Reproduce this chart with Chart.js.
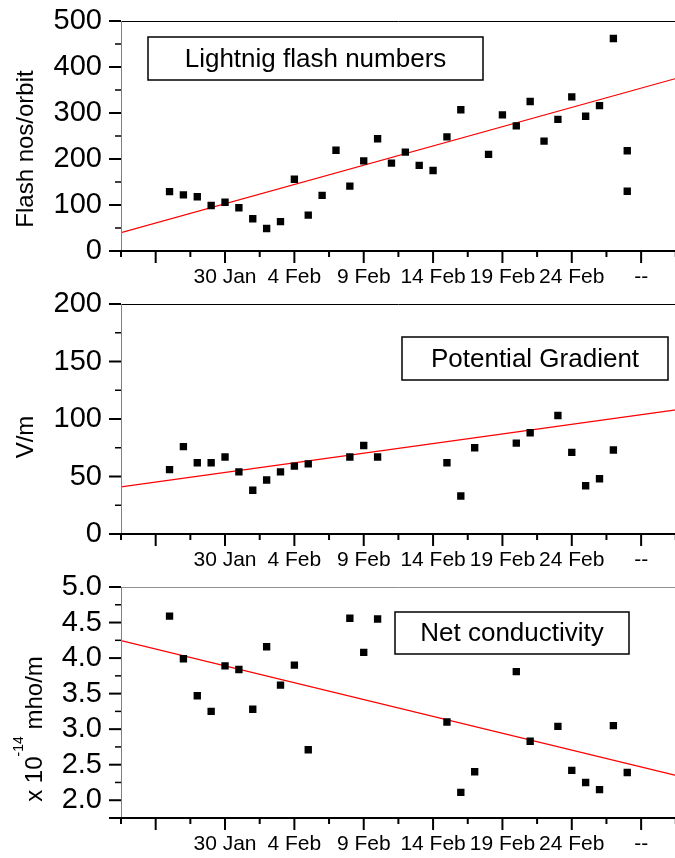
<!DOCTYPE html>
<html>
<head>
<meta charset="utf-8">
<script src="https://cdn.jsdelivr.net/npm/chart.js@4.4.1/dist/chart.umd.min.js"></script>
<style>
  html, body { margin: 0; padding: 0; background: #fff; overflow: hidden; }
  #wrap { position: relative; width: 675px; height: 858px; overflow: hidden; }
  #wrap canvas { position: absolute; left: 0; }
</style>
</head>
<body>
<div id="wrap">
  <canvas id="flash" width="681" height="320" style="top:-20px"></canvas>
  <canvas id="pg" width="681" height="315" style="top:265px"></canvas>
  <canvas id="cond" width="681" height="310" style="top:548px"></canvas>
</div>
<script>
// day numbers counted from 1 Jan (32 = 1 Feb)
var dayMin = 22.5, dayMax = 62.5;
var tickDays = [25, 30, 35, 40, 45, 50, 55, 60];
var tickLabels = ['', '30 Jan', '4 Feb', '9 Feb', '14 Feb', '19 Feb', '24 Feb', '--'];

// lightning flash numbers
var flashDays = [26, 27, 28, 29, 30, 31, 32, 33, 34, 35, 36, 37, 38, 39, 40, 41, 42, 43, 44, 45, 46, 47,
                 49, 50, 51, 52, 53, 54, 55, 56, 57, 58, 59, 59];
var flashCounts = [129, 122, 118, 99, 106, 94, 70, 49, 64, 156, 78, 121, 219, 141, 196, 244, 191, 215, 186, 175, 248, 307,
                   210, 296, 272, 325, 239, 286, 335, 293, 316, 462, 218, 130];
var flashTicks = [0, 100, 200, 300, 400, 500];

// potential gradient
var pgDays = [26, 27, 28, 29, 30, 31, 32, 33, 34, 35, 36, 39, 40, 41, 46, 47, 48, 51, 52, 54, 55, 56, 57, 58];
var pgValues = [56, 76, 62, 62, 67, 54, 38, 47, 54, 59, 61, 67, 77, 67, 62, 33, 75, 79, 88, 103, 71, 42, 48, 73];
var pgTicks = [0, 50, 100, 150, 200];

// net conductivity
var condDays = [26, 27, 28, 29, 30, 31, 32, 33, 34, 35, 36, 39, 40, 41, 46, 47, 48, 51, 52, 54, 55, 56, 57, 58, 59];
var condValues = [4.59, 3.99, 3.47, 3.25, 3.89, 3.84, 3.28, 4.16, 3.62, 3.90, 2.71, 4.56, 4.08, 4.55, 3.10, 2.11, 2.40,
                  3.81, 2.83, 3.04, 2.42, 2.25, 2.15, 3.05, 2.39];
var condTicks = [2.0, 2.5, 3.0, 3.5, 4.0, 4.5, 5.0];

// fitted lines (end points)
var trendDays = [22.5, 62.5];
var flashTrend = [40, 375];
var pgTrend = [41, 108];
var condTrend = [4.245, 2.35];

var FONT = '"Liberation Sans", Arial, sans-serif';

function pts(xs, ys) {
  return xs.map(function (d, i) { return { x: d, y: ys[i] }; });
}

function seg(ctx, x1, y1, x2, y2) {
  ctx.beginPath(); ctx.moveTo(x1, y1); ctx.lineTo(x2, y2); ctx.stroke();
}

// axes, minor ticks, label box and y title drawn by hand
var decor = {
  id: 'decor',
  afterDraw: function (chart, args, o) {
    var ctx = chart.ctx, a = chart.chartArea;
    var xs = chart.scales.x, ys = chart.scales.y;
    ctx.save();

    // top line
    ctx.strokeStyle = o.topColor; ctx.lineWidth = 1;
    seg(ctx, a.left, a.top + 0.5, a.right, a.top + 0.5);
    // y axis line
    ctx.strokeStyle = '#808080';
    seg(ctx, a.left + 0.5, a.top, a.left + 0.5, a.bottom);

    // y ticks
    ctx.strokeStyle = '#000';
    var maj = o.yTicks, step = maj[1] - maj[0];
    maj.forEach(function (v) {
      var p = ys.getPixelForValue(v);
      ctx.lineWidth = 2; seg(ctx, a.left - 12, p, a.left, p);
    });
    var minors = [];
    for (var i = 0; i < maj.length - 1; i++) minors.push(maj[i] + step / 2);
    if (maj[0] - step / 2 >= ys.min - 1e-9) minors.push(maj[0] - step / 2);
    minors.forEach(function (v) {
      var p = ys.getPixelForValue(v);
      ctx.lineWidth = 1.5; seg(ctx, a.left - 6, p, a.left, p);
    });

    // x axis
    ctx.lineWidth = 2;
    seg(ctx, a.left - 12, a.bottom, a.right, a.bottom);
    for (var d = dayMin; d <= dayMax + 1e-9; d += 2.5) {
      var px = xs.getPixelForValue(d);
      var major = tickDays.indexOf(d) >= 0;
      seg(ctx, px, a.bottom, px, a.bottom + (major ? 12 : 6));
    }

    // label box
    var b = o.box;
    ctx.lineWidth = 1.5; ctx.strokeStyle = '#000';
    ctx.strokeRect(b.x, b.y, b.w, b.h);
    ctx.fillStyle = '#000';
    ctx.font = '26px ' + FONT;
    ctx.textAlign = 'center'; ctx.textBaseline = 'middle';
    ctx.fillText(b.text, b.x + b.w / 2, b.y + b.h / 2 + 1);

    // y title
    var t = o.title;
    ctx.translate(t.x, t.y);
    ctx.rotate(-Math.PI / 2);
    ctx.textBaseline = 'alphabetic';
    if (!t.sup) {
      ctx.font = '24px ' + FONT;
      ctx.textAlign = 'center';
      ctx.fillText(t.text, 0, 0);
    } else {
      ctx.textAlign = 'left';
      ctx.font = '24px ' + FONT;
      var w1 = ctx.measureText(t.text).width, w3 = ctx.measureText(t.after).width;
      ctx.font = '14px ' + FONT;
      var w2 = ctx.measureText(t.sup).width;
      var x0 = -(w1 + w2 + w3) / 2;
      ctx.font = '24px ' + FONT;
      ctx.fillText(t.text, x0, 0);
      ctx.font = '14px ' + FONT;
      ctx.fillText(t.sup, x0 + w1, -19);
      ctx.font = '24px ' + FONT;
      ctx.fillText(t.after, x0 + w1 + w2, 0);
    }
    ctx.restore();
  }
};

function makePanel(id, days, vals, trend, yMin, yMax, yTicks, fmt, padTop, xHeight, decorOpts) {
  decorOpts.yTicks = yTicks;
  return new Chart(document.getElementById(id), {
    type: 'scatter',
    data: {
      datasets: [{
        data: pts(days, vals),
        pointStyle: 'rect',
        pointRadius: 5.2,
        backgroundColor: '#000',
        borderWidth: 0
      }, {
        type: 'line',
        data: pts(trendDays, trend),
        borderColor: '#ff0000',
        borderWidth: 1.2,
        pointRadius: 0,
        fill: false
      }]
    },
    options: {
      responsive: false,
      animation: false,
      events: [],
      layout: { padding: { top: padTop, left: 0, right: 0, bottom: 0 } },
      plugins: { legend: { display: false }, tooltip: { enabled: false }, decor: decorOpts },
      scales: {
        x: {
          type: 'linear', min: dayMin, max: dayMax,
          afterBuildTicks: function (s) { s.ticks = tickDays.map(function (v) { return { value: v }; }); },
          afterFit: function (s) { s.height = xHeight; },
          grid: { display: false, drawTicks: false },
          border: { display: false },
          ticks: {
            autoSkip: false, maxRotation: 0, padding: 14, color: '#000',
            font: { family: FONT, size: 21 },
            callback: function (v, i) { return tickLabels[i]; }
          }
        },
        y: {
          min: yMin, max: yMax,
          afterBuildTicks: function (s) { s.ticks = yTicks.map(function (v) { return { value: v }; }); },
          afterFit: function (s) { s.width = 121; },
          grid: { display: false, drawTicks: false },
          border: { display: false },
          ticks: {
            autoSkip: false, padding: 19, color: '#000',
            font: { family: FONT, size: 29 },
            callback: fmt
          }
        }
      }
    },
    plugins: [decor]
  });
}

// canvas tops: -20, 265, 548 (page coords)
makePanel('flash', flashDays, flashCounts, flashTrend, 0, 500, flashTicks,
  function (v) { return String(v); }, 41, 49, {
    topColor: '#000',
    box: { x: 148, y: 57, w: 335, h: 43, text: 'Lightnig flash numbers' },
    title: { x: 33, y: 169, text: 'Flash nos/orbit' }
  });

makePanel('pg', pgDays, pgValues, pgTrend, 0, 200, pgTicks,
  function (v) { return String(v); }, 39, 46, {
    topColor: '#000',
    box: { x: 402, y: 72, w: 266, h: 43, text: 'Potential Gradient' },
    title: { x: 33, y: 172, text: 'V/m' }
  });

makePanel('cond', condDays, condValues, condTrend, 1.75, 5.0, condTicks,
  function (v) { return v.toFixed(1); }, 39, 40, {
    topColor: '#909090',
    box: { x: 395, y: 64, w: 234, h: 42, text: 'Net conductivity' },
    title: { x: 42, y: 181, text: 'x 10', sup: '-14', after: ' mho/m' }
  });
</script>
</body>
</html>
